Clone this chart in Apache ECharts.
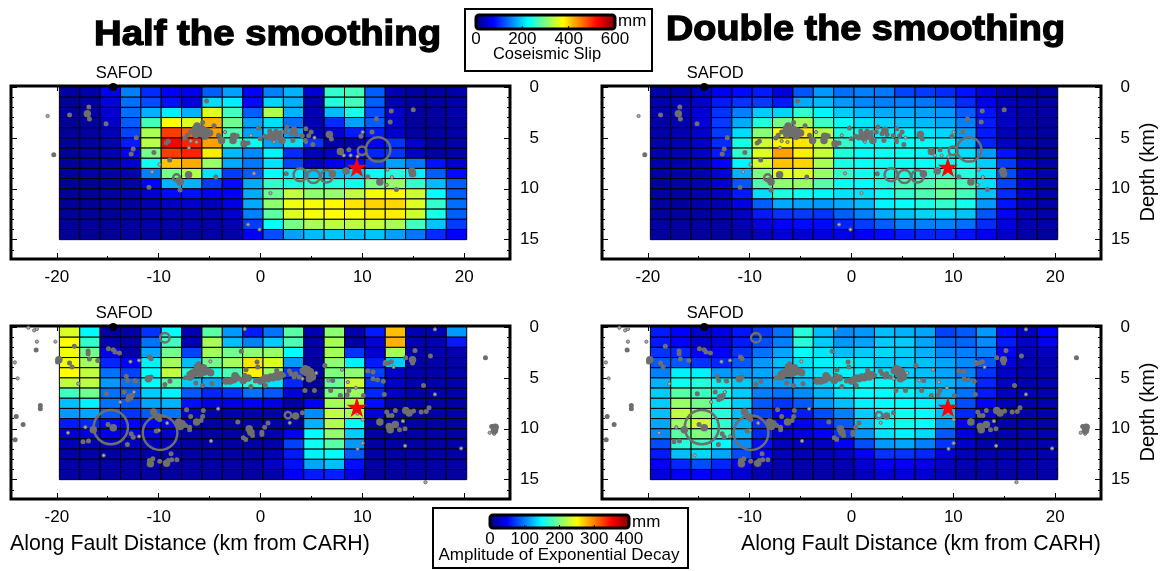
<!DOCTYPE html>
<html><head><meta charset="utf-8">
<script src="https://cdn.jsdelivr.net/npm/echarts@6/dist/echarts.min.js"></script>
<style>html,body{margin:0;padding:0;background:#fff}#c{width:1163px;height:571px}</style>
</head><body><div id="c"></div>
<script>
const columnStarts=[-19.75,-17.75,-15.75,-13.75,-11.75,-9.75,-7.75,-5.75,-3.75,-1.75,0.25,2.25,4.25,6.25,8.25,10.25,12.25,14.25,16.25,18.25];
const xMajorTicks=[-20,-10,0,10,20];
const xMinorTicks=[-15,-5,5,15];
const yMajorTicks=[0,5,10,15];
const yMinorTicks=[1,2,3,4,6,7,8,9,11,12,13,14,16];
const slipBarTicks=[0,200,400,600];
const ampBarTicks=[0,100,200,300,400];

const slipHalf=[
[20,25,70,150,100,70,65,130,170,75,150,180,50,255,265,130,30,20,20,25],
[15,20,60,140,120,85,60,205,215,80,200,180,30,245,265,130,30,20,20,25],
[15,20,50,140,180,215,180,355,265,130,330,180,30,185,240,120,45,20,20,25],
[15,20,40,130,265,375,355,420,290,170,205,140,30,100,170,130,45,20,20,25],
[15,20,35,115,325,490,470,430,270,170,205,170,35,50,90,90,45,20,20,25],
[15,20,30,90,335,525,505,430,260,230,170,205,105,25,25,70,105,45,20,25],
[15,20,30,70,295,490,505,385,185,155,220,100,35,45,75,95,105,40,20,25],
[15,20,25,45,235,410,425,315,175,145,210,115,40,65,80,110,170,145,85,45],
[15,20,25,30,150,295,330,210,110,130,225,220,190,185,195,230,245,215,130,80],
[15,15,20,25,75,180,180,110,80,175,255,240,250,245,235,295,315,255,185,130],
[15,15,20,25,45,80,85,65,70,175,285,340,310,315,340,370,378,345,228,130],
[15,15,20,20,30,40,45,35,60,175,310,365,370,378,390,400,398,355,255,140],
[15,15,15,20,25,30,30,30,45,150,280,355,370,375,372,385,385,345,240,130],
[15,15,15,20,25,25,25,25,30,110,230,295,325,335,335,340,325,265,190,110],
[15,15,15,20,20,20,20,25,25,70,120,170,185,190,185,190,170,145,100,75]];
const slipDouble=[
[25,25,40,70,80,90,55,125,165,140,150,145,115,110,100,85,55,30,20,20],
[25,30,45,90,105,110,90,175,185,165,155,150,150,145,130,100,65,35,25,20],
[25,30,50,105,150,195,200,255,220,195,185,175,175,170,165,130,85,40,25,20],
[25,30,50,110,175,245,295,320,260,230,210,200,190,185,175,150,90,40,25,20],
[25,30,45,110,205,305,370,385,330,245,235,220,220,210,200,165,90,35,25,20],
[25,30,40,100,240,345,380,390,340,255,230,230,230,228,220,180,95,40,25,20],
[25,30,40,90,255,355,430,385,340,245,225,232,232,222,230,205,165,85,25,20],
[25,25,35,75,220,350,410,400,325,240,230,232,232,230,232,235,195,110,45,25],
[20,25,30,55,180,300,360,355,315,255,235,240,245,250,255,245,210,120,50,30],
[20,25,30,45,125,270,310,315,275,230,225,245,265,270,280,265,205,115,50,30],
[20,20,25,35,90,205,245,235,220,210,210,232,255,270,285,265,190,100,45,25],
[20,20,25,30,60,130,175,170,165,175,185,220,228,240,255,235,165,85,40,25],
[20,20,20,25,40,90,105,110,105,130,150,175,190,200,200,190,125,75,35,25],
[20,20,20,20,30,55,70,80,80,95,110,130,150,150,150,140,100,55,30,25],
[20,20,20,20,25,35,45,50,55,60,70,80,90,95,95,85,65,40,25,20]];
const ampHalf=[
[235,148,15,15,70,150,20,185,110,60,95,185,20,205,18,60,275,20,20,110],
[250,170,18,15,95,175,20,215,125,100,130,180,15,215,15,35,280,20,20,60],
[245,195,40,15,115,195,75,215,195,205,210,150,15,215,70,30,215,18,18,18],
[245,215,65,50,145,215,125,195,215,260,235,110,15,205,145,60,130,18,18,18],
[250,225,95,75,150,225,165,160,180,255,210,70,15,200,205,75,30,18,18,18],
[225,225,110,95,150,185,130,115,145,165,140,65,12,190,230,70,28,18,18,18],
[175,195,95,85,130,145,85,65,70,95,85,35,12,200,210,65,28,18,18,18],
[125,145,95,85,115,120,55,40,40,45,40,15,45,215,220,55,15,15,15,15],
[110,115,85,70,85,95,25,18,18,18,18,15,105,225,215,35,15,15,15,15],
[60,65,50,50,50,45,18,15,15,15,18,15,120,220,150,15,15,15,15,15],
[30,35,40,35,35,28,15,15,15,15,18,45,150,205,130,15,15,15,15,15],
[22,22,22,25,25,22,15,15,15,15,18,75,155,185,110,15,15,15,15,15],
[15,15,15,15,15,15,15,15,15,15,20,60,145,150,85,15,15,15,15,15],
[15,15,15,15,15,15,15,15,15,15,28,55,115,125,55,15,15,15,15,15],
[15,15,15,15,15,15,15,15,15,15,18,45,60,62,38,15,15,15,15,15]];
const ampDouble=[
[60,50,30,40,58,70,95,165,125,105,110,125,120,115,75,85,110,55,25,50],
[60,50,32,38,60,80,100,165,130,110,115,130,130,115,90,90,105,60,28,45],
[70,65,50,50,70,95,115,150,140,125,130,135,130,120,105,100,100,50,22,25],
[85,85,70,65,85,110,125,140,145,145,140,130,130,125,115,105,85,35,20,20],
[100,145,145,110,110,115,120,135,140,145,145,140,130,125,115,100,70,28,20,20],
[120,155,165,145,130,115,115,125,135,145,150,148,140,130,120,110,65,25,20,20],
[130,185,175,155,130,100,95,105,120,140,150,150,145,135,120,95,60,25,20,20],
[130,210,195,160,130,85,70,85,110,125,145,150,150,145,130,80,50,22,18,18],
[125,225,205,165,125,75,50,60,80,100,130,150,155,150,125,65,35,20,18,18],
[115,210,230,170,120,70,45,45,60,85,125,150,155,150,110,50,25,18,18,18],
[105,185,200,175,120,65,30,35,45,70,110,140,145,135,85,35,20,18,18,18],
[80,165,170,150,105,55,25,25,28,50,80,110,115,100,70,30,18,18,18,18],
[60,125,135,115,80,45,22,20,22,28,50,70,70,65,40,22,18,18,18,18],
[45,65,80,65,45,25,18,18,18,20,30,45,45,40,28,20,18,18,18,18],
[35,45,50,42,30,20,18,18,18,18,22,32,35,30,22,18,18,18,18,18]];

// events: [km along fault, depth km, size class 1|2]
const upperEvents=[[-20.3,6.66,1],[-18.75,2.75,1],[-16.86,1.97,1],[-17,2.62,2],[-16.8,3.15,1],[-15.17,3.61,1],[-12.2,4.98,1],[-12.5,6.1,1],[-12.7,6.59,1],[-10.47,6.43,1],[-10.95,9.84,1],[-8.92,7.18,1],[-9.05,5.34,1],[-9.26,5.51,1],[-8.1,9.11,1],[-7.9,9.34,2],[-7.9,10.13,1],[-7.06,8.62,2],[-4.39,8.85,1],[-5.3,1.38,1],[-6.22,3.84,2],[-6.08,4.33,2],[-6.35,4.66,2],[-5.68,3.48,1],[-6.86,4.43,1],[-7.2,4.75,1],[-7.43,5.02,1],[-5.34,4.33,2],[-5,4.52,2],[-5.44,4.85,2],[-4.56,3.8,1],[-4.12,4.75,1],[-3.82,5.25,2],[-2.64,4.85,2],[-2.3,4.79,1],[-2.7,5.25,2],[-1.62,5.57,2],[-1.22,5.51,1],[-0.2,4.03,1],[-0.03,5.08,1],[0.4,4.85,1],[0.91,4.33,1],[1.42,4.66,2],[1.25,4.98,2],[1.76,4.85,2],[1.52,4.33,1],[2.1,5.25,2],[2.6,3.93,1],[2.43,4.43,1],[3.28,4.26,2],[3.5,4.66,1],[3.18,5.25,1],[4.46,4.1,1],[4.97,4.43,1],[4.73,4.79,1],[4.39,5.25,1],[5.14,5.64,1],[6.76,4.66,2],[6.96,5.11,1],[7.84,6.33,2],[8.68,6.16,1],[9.86,4.85,1],[10.95,4.43,1],[11.39,3.11,1],[12.74,3.44,1],[12.84,2.36,1],[15,2.23,1],[8.41,8.26,2],[7.06,8.52,2],[2.53,8.52,1],[10.54,8.82,1],[11.72,9.34,2],[13.34,10.07,1],[14.86,8.26,2],[14.93,8.52,2],[-6.4,4.1,2],[-5.8,4.6,2],[-5.7,4.15,2],[1,4.8,2],[1.9,4.5,1],[0.7,5,1],[3,4.6,1],[4.1,4.8,1]];
const upperTiny=[[-20.91,2.85],[-9.93,7.61],[-10.64,8.33],[-6.86,5.31],[-7.03,5.97],[-6.28,5.41],[-3.48,4.43],[-0.95,4.75],[-0.64,8.49],[0.98,10.43],[-1.22,13.51],[-0.1,14],[1.32,5.38],[2.1,4.39],[4.46,5.41],[5.3,4.98],[8.18,6.72],[8.85,6.72],[9.53,6.82],[10.03,4.43],[12.4,9.61],[12.9,8.85],[12.47,8.13]];
// rings: [km, depth km, radius km]
const upperRings=[[-8.24,8.92,0.34],[3.89,8.62,0.64],[5.2,8.79,0.64],[6.49,8.79,0.6],[9.97,6.26,0.42],[11.55,6.13,1.2]];
const lowerEvents=[[-22.03,2.26,1],[-21.62,7.7,1],[-21.62,8.03,1],[-23.99,8.79,1],[-23.31,9.57,1],[-24.09,11.08,1],[-18.28,1.9,1],[-19.8,3.21,2],[-19.93,3.44,1],[-18.75,3.54,1],[-18.51,3.93,1],[-16.93,2.36,1],[-16.93,2.62,1],[-16.8,3.15,1],[-15.98,3.28,1],[-14.93,2.13,1],[-14.46,2.23,1],[-14.29,2.46,1],[-13.85,2.56,1],[-13.18,4.85,1],[-13.04,5.25,1],[-12.26,5.31,1],[-15.14,6.56,1],[-13.38,6.39,1],[-12.84,6.89,2],[-12.6,6.72,1],[-13.04,7.15,1],[-10.91,2.95,1],[-10.74,3.11,1],[-11.01,5.08,2],[-10.74,4.92,1],[-9.39,5.64,1],[-8.89,5.34,1],[-10.5,8.36,2],[-10.07,8.85,2],[-10.24,10.23,1],[-9.9,9.11,1],[-16.42,10.1,2],[-14.97,9.57,1],[-14.46,9.9,2],[-17.43,11.28,1],[-16.89,11.21,1],[-13.07,11.54,1],[-12.7,10.49,1],[-12.5,10.82,1],[-10.81,13.44,2],[-10.57,12.95,1],[-10.91,13.11,1],[-9.9,13.18,1],[-9.22,13.38,2],[-9.05,13.11,1],[-8.78,12.46,1],[-8.21,13.05,1],[-8.72,13.05,1],[-8.04,9.34,2],[-7.7,9.51,2],[-7.87,9.77,2],[-7.36,9.67,1],[-6.96,9.84,1],[-6.96,10.1,1],[-6.28,9.34,2],[-5.84,9.18,1],[-5.68,8.79,1],[-5.61,8.2,1],[-7.26,8.13,1],[-6.86,8.79,1],[-6.08,4.1,2],[-6.35,4.33,2],[-5.84,4.26,2],[-5.5,4.43,2],[-5.17,4.33,2],[-6.69,4.52,2],[-7.03,4.59,1],[-7.36,4.98,1],[-6.08,3.61,1],[-5.68,3.93,1],[-6.35,5.51,1],[-5.68,5.74,1],[-4.76,5.57,1],[-3.38,5.31,2],[-2.64,5.18,2],[-2.36,4.98,2],[-2.8,5.25,1],[-1.89,2.39,1],[-1.69,5.25,2],[-1.42,4.2,1],[-1.55,4.75,1],[-0.34,3.44,1],[-0.27,3.93,1],[0.24,5.18,2],[0.74,5.08,2],[1.25,4.98,2],[1.76,4.92,2],[2.26,4.75,1],[1.59,4.26,1],[0.47,5.74,1],[-0.95,5.84,1],[2.84,4.33,1],[3.45,4.59,1],[3.78,4.92,1],[4.39,4.1,2],[4.63,4.2,2],[4.97,4.75,2],[4.8,5.08,2],[5.3,6.23,1],[6.32,3.77,1],[4.36,6.23,1],[6.89,6.23,1],[7.09,5.25,1],[8.68,6.23,1],[8.51,6.66,1],[7.84,6.72,1],[10.1,6.72,1],[4.12,8.43,1],[3.45,8.75,2],[-2.23,9.34,1],[-1.11,10,2],[-0.95,10.33,2],[-0.78,10.66,1],[-1.69,10.89,1],[-1.45,11.05,1],[0.41,9.84,1],[0.74,9.44,1],[0.14,10.33,1],[0.14,10.56,1],[10.54,4.33,1],[11.05,4.43,1],[11.05,5.08,1],[11.49,5.18,1],[12.06,5.34,1],[12.16,6.62,1],[12.23,3.61,1],[12.57,3.54,1],[12.84,3.41,1],[14.26,3.02,1],[14.93,3.21,2],[14.93,3.54,1],[15.17,2.3,1],[16.69,2.85,1],[16.01,5.74,1],[22.09,3.02,1],[11.72,9.34,2],[12.57,8.69,1],[12.4,8.36,1],[12.91,8.69,1],[12.64,9.77,2],[12.74,10.1,2],[13.24,9.57,2],[13.65,10.1,1],[14.19,10,1],[13.24,8.2,1],[14.26,8.2,2],[14.59,8.46,2],[15.03,8.26,1],[15.78,8.36,1],[16.28,8.3,1],[16.55,7.93,1],[23.04,9.84,2],[22.97,10.16,2],[22.7,9.77,1],[-6.5,4.6,2],[-6.2,3.9,2],[-5.9,4.6,2],[-5.6,4,2],[-4.9,4.5,2],[-6.9,4.9,2],[-3,5.3,2],[-2.5,4.8,2],[-2,5.1,1],[-1.2,5,2],[-0.5,5.3,1],[0,5.3,2],[0.5,5,2],[1,4.9,2],[1.5,4.8,2],[2,4.7,2],[4.2,4.3,2],[4.5,4.5,2],[4.9,4.4,2],[5.1,4.9,2],[3,4.6,1],[3.3,4.9,1]];
const lowerTiny=[[-22.8,0.07],[-22.23,0.33],[-21.96,0.2],[-21.96,1.44],[-20.14,1.44],[-24.12,3.48],[-23.85,5.05],[-1.55,0.2],[17.13,0.23],[16.2,15.25],[2.87,9.41],[-15.4,12.62],[-18.9,10.39],[-17.2,9.84],[-4.86,11.2],[22.94,10.49],[22.5,10.39],[14.2,11.67],[19.7,11.93],[17.13,6.62],[8.58,5.41],[6.66,5.25],[8,4.2],[-4.16,8.03],[4.12,5.08],[5.47,4.52],[-4.93,3.38],[-12.77,3.41],[-11.93,3.28],[-12.36,5.25],[-11.93,10.75],[-10,10.16],[-9.16,9.44],[13.99,9.25],[12.23,3.44],[13.07,3.93],[9.36,5.97],[-17.9,5.57],[-13.78,7.38],[-12.43,6.39],[9.53,8.52],[10.03,9.11],[10.03,11.41],[9.53,11.97]];
const lowerRings=[[-9.39,1.05,0.47],[-14.7,9.84,1.68],[-9.86,10.39,1.7],[2.7,8.66,0.32]];
const mainShock=[9.46,7.87];
const safod=[-14.46,0];

const jet=['#00007f','#0000ff','#007fff','#00ffff','#7fff7f','#ffff00','#ff7f00','#ff0000','#7f0000'];
const FONT='"Liberation Sans", Arial, sans-serif';
const PX_PER_KM=10.18;
const star='path://M50 0 L61.8 35.5 L99 35.5 L69 57.5 L80.5 93 L50 71 L19.5 93 L31 57.5 L1 35.5 L38.2 35.5 Z';

const panels=[
 {left:11,top:86,cells:slipHalf,upper:true,labels:[-20,-10,0,10,20],safodOffset:[11,4]},
 {left:602,top:86,cells:slipDouble,upper:true,labels:[-20,-10,0,10,20],safodOffset:[11,4]},
 {left:11,top:326,cells:ampHalf,upper:false,labels:[-20,-10,0,10],safodOffset:[11,4]},
 {left:602,top:326,cells:ampDouble,upper:false,labels:[-10,0,10,20],safodOffset:[11,4]}
];

const grid=[],xAxis=[],yAxis=[],series=[];
const lineOff={show:false,onZero:false};
const xBase={type:'value',min:-24.5,max:24.5,splitLine:{show:false},axisLine:lineOff,axisPointer:{show:false}};
const yBase={type:'value',min:-0.1,max:16.9,inverse:true,splitLine:{show:false},axisLine:lineOff,axisPointer:{show:false}};
const noLabel={show:false};
const tick=(len,vals)=>({show:true,inside:true,length:len,customValues:vals,lineStyle:{color:'#000',width:1}});
panels.forEach((p,i)=>{
  grid.push({left:p.left,top:p.top,width:499,height:173,show:true,backgroundColor:'#fff',borderColor:'#000',borderWidth:3,containLabel:false});
  const x0=xAxis.length,y0=yAxis.length;
  xAxis.push(
   {...xBase,gridIndex:i,position:'bottom',axisTick:tick(6,xMajorTicks),
     axisLabel:{show:true,customValues:p.labels,margin:10,color:'#000',fontFamily:FONT,fontSize:17,formatter:v=>String(v)}},
   {...xBase,gridIndex:i,position:'bottom',axisTick:tick(3,xMinorTicks),axisLabel:noLabel},
   {...xBase,gridIndex:i,position:'top',axisTick:tick(5,xMajorTicks),axisLabel:noLabel});
  yAxis.push(
   {...yBase,gridIndex:i,position:'right',axisTick:tick(6,yMajorTicks),
     axisLabel:{show:true,customValues:yMajorTicks,inside:false,margin:29,align:'right',color:'#000',fontFamily:FONT,fontSize:17,formatter:v=>String(v)}},
   {...yBase,gridIndex:i,position:'right',axisTick:tick(3,yMinorTicks),axisLabel:noLabel},
   {...yBase,gridIndex:i,position:'left',axisTick:tick(6,yMajorTicks),axisLabel:noLabel},
   {...yBase,gridIndex:i,position:'left',axisTick:tick(3,yMinorTicks),axisLabel:noLabel});
  const cellData=[];
  p.cells.forEach((row,r)=>row.forEach((v,c)=>cellData.push([columnStarts[c],r,v])));
  series.push({type:'custom',xAxisIndex:x0,yAxisIndex:y0,data:cellData,clip:false,silent:true,z:2,
    encode:{x:0,y:1},
    renderItem:(params,api)=>{
      const a=api.coord([api.value(0),api.value(1)]);
      const b=api.coord([api.value(0)+2,api.value(1)+1]);
      return {type:'rect',shape:{x:a[0],y:a[1],width:b[0]-a[0],height:b[1]-a[1]},
        style:{fill:api.visual('color'),stroke:'#000',lineWidth:1}};
    }});
});
panels.forEach((p,i)=>{
  const x0=i*3,y0=i*4;
  const ev=p.upper?upperEvents:lowerEvents,ti=p.upper?upperTiny:lowerTiny,ri=p.upper?upperRings:lowerRings;
  series.push(
   {type:'scatter',xAxisIndex:x0,yAxisIndex:y0,data:ti,symbol:'circle',symbolSize:3.2,silent:true,z:3,
     itemStyle:{color:'#b0b0b0',borderColor:'#6e6e6e',borderWidth:1,opacity:1}},
   {type:'scatter',xAxisIndex:x0,yAxisIndex:y0,data:ev,symbol:'circle',symbolSize:d=>d[2]===2?7.5:5,silent:true,z:3,
     itemStyle:{color:'#6e6e6e',opacity:1}},
   {type:'scatter',xAxisIndex:x0,yAxisIndex:y0,data:ri,symbol:'circle',symbolSize:d=>d[2]*2*PX_PER_KM,silent:true,z:3,
     itemStyle:{color:'transparent',borderColor:'#6e6e6e',borderWidth:2.5,opacity:1}},
   {type:'scatter',xAxisIndex:x0,yAxisIndex:y0,data:[mainShock],symbol:star,symbolSize:20,silent:true,z:4,
     itemStyle:{color:'#ff0000',opacity:1}},
   {type:'scatter',xAxisIndex:x0,yAxisIndex:y0,data:[safod],symbol:'circle',symbolSize:8,silent:true,z:10,clip:false,
     itemStyle:{color:'#000',opacity:1},
     label:{show:true,position:'top',offset:p.safodOffset,formatter:'SAFOD',color:'#000',fontFamily:FONT,fontSize:16.5}});
});

function bar(x,y,len,thick,ticks,max,title,tx,ty,titleSize,unitX,unitY,labelY){
  const els=[{type:'rect',z:20,shape:{x:x,y:y,width:len,height:thick,r:3},style:{fill:'transparent',stroke:'#000',lineWidth:3}}];
  ticks.forEach(t=>{
    const px=x+t/max*len;
    if(t>0&&t<max)els.push({type:'line',z:20,shape:{x1:px,y1:y+thick-3,x2:px,y2:y+thick},style:{stroke:'#000',lineWidth:1}});
    els.push({type:'text',z:20,x:px,y:labelY,style:{text:String(t),font:'17px '+FONT,fill:'#000',textAlign:'center',textVerticalAlign:'middle'}});
  });
  els.push({type:'text',z:20,x:unitX,y:unitY,style:{text:'mm',font:'17px '+FONT,fill:'#000',textVerticalAlign:'middle'}});
  els.push({type:'text',z:20,x:tx,y:ty,style:{text:title,font:titleSize+'px '+FONT,fill:'#000',textAlign:'center',textVerticalAlign:'middle'}});
  return els;
}
const graphic=[
 {type:'text',x:94,y:35,scaleX:1.095,style:{text:'Half the smoothing',font:'900 35px '+FONT,fill:'#000',stroke:'#000',lineWidth:1.3,textVerticalAlign:'middle'}},
 {type:'text',x:666,y:30,scaleX:1.08,style:{text:'Double the smoothing',font:'900 35px '+FONT,fill:'#000',stroke:'#000',lineWidth:1.3,textVerticalAlign:'middle'}},
 {type:'rect',z:1,shape:{x:465,y:9,width:187,height:62},style:{fill:'#fff',stroke:'#000',lineWidth:2}},
 {type:'rect',z:1,shape:{x:433,y:508,width:255,height:60},style:{fill:'#fff',stroke:'#000',lineWidth:2}},
 ...bar(476,15,139,14,slipBarTicks,600,'Coseismic Slip',547,54,16.5,618,21,39),
 ...bar(490,515,139,13,ampBarTicks,400,'Amplitude of Exponential Decay',559,555,17,632,522,539),
 {type:'text',x:10,y:544,style:{text:'Along Fault Distance (km from CARH)',font:'21.3px '+FONT,fill:'#000',textVerticalAlign:'middle'}},
 {type:'text',x:741,y:544,style:{text:'Along Fault Distance (km from CARH)',font:'21.3px '+FONT,fill:'#000',textVerticalAlign:'middle'}},
 {type:'text',x:1148,y:172,rotation:Math.PI/2,style:{text:'Depth (km)',font:'20px '+FONT,fill:'#000',textAlign:'center',textVerticalAlign:'middle'}},
 {type:'text',x:1148,y:412,rotation:Math.PI/2,style:{text:'Depth (km)',font:'20px '+FONT,fill:'#000',textAlign:'center',textVerticalAlign:'middle'}}
];
const chart=echarts.init(document.getElementById('c'),null,{renderer:'canvas'});
chart.setOption({
  animation:false,backgroundColor:'#fff',
  grid,xAxis,yAxis,series,graphic,
  visualMap:[
   {type:'continuous',min:0,max:600,dimension:2,seriesIndex:[0,1],orient:'horizontal',left:476,top:15,itemWidth:14,itemHeight:139,padding:0,text:null,showLabel:false,calculable:false,hoverLink:false,inRange:{color:jet},z:5},
   {type:'continuous',min:0,max:400,dimension:2,seriesIndex:[2,3],orient:'horizontal',left:490,top:515,itemWidth:13,itemHeight:139,padding:0,text:null,showLabel:false,calculable:false,hoverLink:false,inRange:{color:jet},z:5}
  ]
});
</script></body></html>
